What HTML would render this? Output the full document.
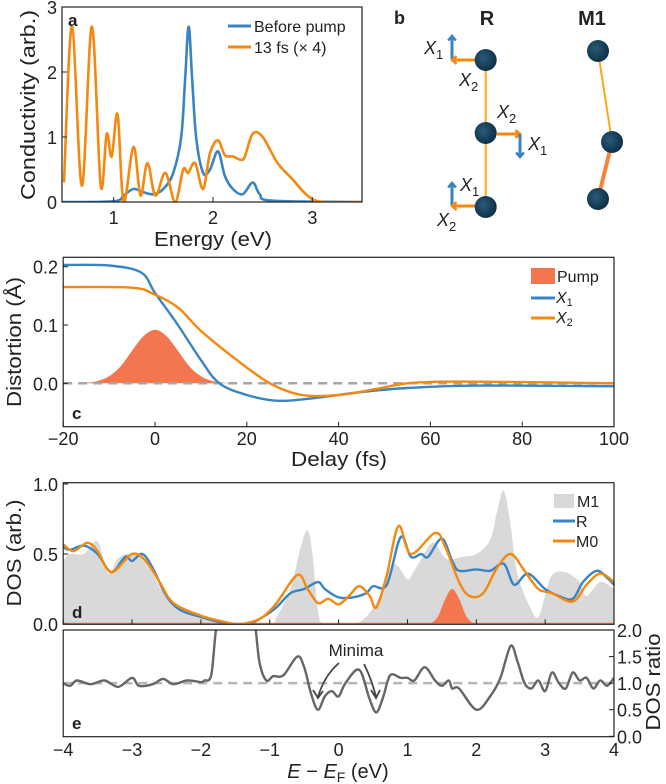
<!DOCTYPE html>
<html><head><meta charset="utf-8"><style>
body{margin:0;background:#fff}
svg{display:block;font-family:"Liberation Sans",sans-serif}
</style></head><body>
<svg id="fig" width="666" height="784" viewBox="0 0 666 784" xmlns="http://www.w3.org/2000/svg">
<defs>
<clipPath id="ca"><rect x="62" y="7" width="300" height="195"/></clipPath>
<clipPath id="cc"><rect x="63.2" y="257.3" width="550.8" height="169.4"/></clipPath>
<clipPath id="cd"><rect x="63.2" y="482.7" width="550.8" height="141.6"/></clipPath>
<clipPath id="ce"><rect x="63.2" y="630" width="550.8" height="106.7"/></clipPath>
<radialGradient id="atom" cx="0.4" cy="0.4" r="0.6"><stop offset="0" stop-color="#2a5a78"/><stop offset="1" stop-color="#0d3148"/></radialGradient>
</defs>
<g id="root"></g>
</svg>
<script>
// ---------- Panel a data ----------
const aBlueE=[0.48,1.0,1.1,1.2,1.3,1.4,1.5,1.6,1.68,1.72,1.755,1.79,1.83,1.9,1.97,2.05,2.12,2.2,2.3,2.4,2.47,2.6,3.5];
const aBlueV=[0,0.01,0.1,0.2,0.15,0.12,0.2,0.45,1.0,1.9,2.7,1.9,1.0,0.45,0.5,0.78,0.4,0.2,0.12,0.3,0.12,0.02,0];
const aOrE=[0.5,0.58,0.68,0.78,0.87,0.93,0.98,1.04,1.1,1.2,1.27,1.34,1.42,1.52,1.62,1.7,1.75,1.82,1.9,1.97,2.05,2.12,2.2,2.28,2.32,2.4,2.5,2.65,2.8,2.95,3.1,3.5];
const aOrV=[0.3,2.7,0.25,2.7,0.25,1.05,0.7,1.35,0,0.85,0.1,0.6,0.1,0.45,0,0.5,0.45,0.6,0.2,0.75,0.95,0.72,0.7,0.65,0.7,1.05,1.0,0.6,0.35,0.1,0,0];
const aXTicks=[1,2,3];
const aYTicks=[0,1,2,3];
// ---------- Panel c data ----------
const cT1=[-20,-10,-3,0,5,10,14,20,27,35,45,55,70,100];
const cX1=[0.203,0.202,0.19,0.155,0.1,0.04,0,-0.02,-0.03,-0.025,-0.015,-0.008,-0.004,-0.005];
const cT2=[-20,-5,0,5,10,17,25,32,40,48,55,65,80,100];
const cX2=[0.165,0.164,0.152,0.13,0.09,0.045,0,-0.02,-0.02,-0.01,0,0.003,0.002,0];
const cPumpT=[-20,-15,-12.5,-10,-7.5,-5,-2.5,0,2.5,5,7.5,10,12.5,15,20];
const cPumpV=[0,0.001,0.004,0.012,0.029,0.056,0.081,0.092,0.081,0.056,0.029,0.012,0.004,0.001,0];
const cXTicks=[-20,0,20,40,60,80,100];
const cYTicks=[0,0.1,0.2];
// ---------- Panel d data ----------
const dM1E=[-4,-3.9,-3.7,-3.5,-3.35,-3.2,-3.0,-2.8,-2.5,-2.0,-1.5,-1.0,-0.9,-0.7,-0.55,-0.45,-0.38,-0.3,-0.2,0.2,0.4,0.6,0.75,0.85,1.0,1.1,1.3,1.4,1.5,1.6,1.8,2.0,2.2,2.3,2.4,2.5,2.6,2.8,2.9,3.0,3.1,3.3,3.5,3.6,3.8,4.0];
const dM1V=[0.45,0.5,0.5,0.59,0.36,0.47,0.5,0.45,0.2,0.05,0,0,0.05,0.25,0.55,0.67,0.5,0.1,0,0,0.05,0.2,0.4,0.42,0.32,0.38,0.55,0.58,0.5,0.46,0.48,0.5,0.6,0.8,0.95,0.7,0.35,0.1,0.05,0.2,0.35,0.37,0.3,0.2,0.3,0.25];
const dRE=[-4,-3.9,-3.7,-3.5,-3.3,-3.1,-3.0,-2.85,-2.7,-2.5,-2.3,-2.0,-1.7,-1.5,-1.3,-1.1,-0.9,-0.7,-0.5,-0.3,-0.2,0,0.2,0.4,0.5,0.7,0.9,1.05,1.2,1.3,1.5,1.65,1.75,2.0,2.2,2.4,2.55,2.75,3.0,3.2,3.4,3.55,3.75,3.9,4.0];
const dRV=[0.55,0.53,0.56,0.5,0.37,0.48,0.45,0.5,0.4,0.2,0.1,0.05,0.01,0,0,0.05,0.12,0.22,0.25,0.3,0.25,0.19,0.19,0.22,0.27,0.28,0.62,0.48,0.5,0.48,0.61,0.45,0.38,0.39,0.38,0.43,0.28,0.36,0.25,0.2,0.18,0.3,0.38,0.33,0.28];
const dM0E=[-4,-3.85,-3.65,-3.5,-3.3,-3.0,-2.8,-2.6,-2.4,-2.0,-1.7,-1.5,-1.3,-1.1,-0.9,-0.6,-0.45,-0.3,-0.15,0,0.15,0.3,0.45,0.55,0.7,0.87,1.05,1.4,1.55,1.75,1.9,2.1,2.3,2.5,2.7,2.9,3.1,3.4,3.6,3.8,4.0];
const dM0V=[0.57,0.52,0.58,0.52,0.37,0.5,0.45,0.3,0.15,0.06,0.02,0,0.01,0.05,0.15,0.35,0.25,0.15,0.18,0.14,0.2,0.27,0.2,0.12,0.35,0.7,0.5,0.65,0.55,0.3,0.2,0.22,0.4,0.5,0.38,0.25,0.22,0.16,0.28,0.36,0.3];
const dPumpE=[1.2,1.35,1.45,1.55,1.65,1.75,1.85,1.95,2.1];
const dPumpV=[0,0.01,0.06,0.18,0.25,0.18,0.06,0.01,0];
const eE=[-4,-3.9,-3.8,-3.6,-3.4,-3.2,-3.0,-2.9,-2.7,-2.55,-2.4,-2.2,-2.0,-1.95,-1.85,-1.78,-1.7,-1.65];
const eV=[1.0,0.95,1.05,0.98,1.05,0.93,1.1,0.95,0.98,1.08,0.98,1.05,1.02,1.05,1.15,2.0,2.3,2.5];
const eE2=[-1.28,-1.22,-1.15,-1.05,-0.95,-0.8,-0.6,-0.5,-0.4,-0.3,-0.2,-0.1,0,0.1,0.3,0.45,0.55,0.65,0.75,0.9,1.0,1.1,1.25,1.4,1.5,1.6,1.65,1.75,2.0,2.2,2.35,2.5,2.6,2.7,2.8,2.9,3.0,3.1,3.2,3.3,3.4,3.5,3.6,3.7,3.8,3.9,4.0];
const eV2=[2.5,2.2,1.4,1.05,1.13,1.15,1.5,1.3,0.8,0.5,0.75,0.85,0.75,1.0,1.25,0.7,0.45,0.75,1.15,1.1,1.1,1.05,1.3,1.05,0.95,1.05,0.9,0.9,0.5,0.75,1.1,1.7,1.4,1.0,0.9,1.05,0.85,1.2,1.0,0.9,1.2,1.05,1.1,0.9,1.05,0.95,1.1];
const dXTicks=[-4,-3,-2,-1,0,1,2,3,4];
const dYTicks=[0,0.5,1.0];
const eYTicks=[0,0.5,1.0,1.5,2.0];

const NS="http://www.w3.org/2000/svg";
const root=document.getElementById('root');
function mk(tag,attrs,parent,text){const e=document.createElementNS(NS,tag);for(const k in attrs)e.setAttribute(k,attrs[k]);if(text!==undefined)e.textContent=text;(parent||root).appendChild(e);return e;}
function lin(d0,d1,r0,r1){return v=>r0+(v-d0)*(r1-r0)/(d1-d0);}
function smooth(xs,ys,sx,sy){const p=xs.map((x,i)=>[sx(x),sy(ys[i])]);let d='M'+p[0][0].toFixed(1)+','+p[0][1].toFixed(1);
for(let i=0;i<p.length-1;i++){const p0=p[i-1]||p[i],p1=p[i],p2=p[i+1],p3=p[i+2]||p2;const t=6;
const c1=[p1[0]+(p2[0]-p0[0])/t,p1[1]+(p2[1]-p0[1])/t],c2=[p2[0]-(p3[0]-p1[0])/t,p2[1]-(p3[1]-p1[1])/t];
d+=`C${c1[0].toFixed(1)},${c1[1].toFixed(1)} ${c2[0].toFixed(1)},${c2[1].toFixed(1)} ${p2[0].toFixed(1)},${p2[1].toFixed(1)}`;}return d;}
const BLUE='#3a84c4',ORANGE='#f5890f',PUMP='#f4764f',TXT='#222';
const L=63.2,R=614,W=R-L,TF=18;
function title(x,y,s,len,rot){const a={x:0,y:0,'font-size':20,'text-anchor':'middle',fill:TXT,textLength:len,lengthAdjust:'spacingAndGlyphs',transform:`translate(${x},${y})`+(rot?' rotate(-90)':'')};return mk('text',a,root,s);}

// ===== Panel a =====
const ax=lin(0.48,3.5,62,362), ay=lin(0,3,202,7);
let g=mk('g',{'clip-path':'url(#ca)'});

let p=mk('path',{d:smooth(aBlueE,aBlueV,ax,ay),fill:'none',stroke:BLUE,'stroke-width':2.6},g);

p=mk('path',{d:smooth(aOrE,aOrV,ax,ay),fill:'none',stroke:ORANGE,'stroke-width':2.6},g);

let fr=mk('rect',{x:62,y:7,width:300,height:195,fill:'none',stroke:'#222','stroke-width':1.2});

aXTicks.forEach(v=>{mk('line',{x1:ax(v),x2:ax(v),y1:202,y2:197,stroke:'#222'});let t=mk('text',{x:ax(v),y:224,'font-size':TF,'text-anchor':'middle',fill:TXT},root,v);});
aYTicks.forEach(v=>{mk('line',{x1:62,x2:67,y1:ay(v),y2:ay(v),stroke:'#222'});let t=mk('text',{x:57,y:ay(v)+7,'font-size':TF,'text-anchor':'end',fill:TXT},root,v);});
let t=title(213,246,'Energy (eV)',118,false);
t=title(35,105,'Conductivity (arb.)',190,true);
t=mk('text',{x:68,y:26,'font-size':17,'font-weight':'bold',fill:TXT},root,'a');
mk('line',{x1:228,x2:251,y1:26,y2:26,stroke:BLUE,'stroke-width':3});
t=mk('text',{x:254,y:32,'font-size':16,fill:TXT},root,'Before pump');
mk('line',{x1:228,x2:251,y1:47,y2:47,stroke:ORANGE,'stroke-width':3});
t=mk('text',{x:254,y:53,'font-size':16,fill:TXT},root,'13 fs (× 4)');

// ===== Panel b =====
t=mk('text',{x:394,y:24,'font-size':18,'font-weight':'bold',fill:TXT},root,'b');
t=mk('text',{x:487,y:25,'font-size':20,'font-weight':'bold','text-anchor':'middle',fill:TXT},root,'R');
t=mk('text',{x:592,y:25,'font-size':20,'font-weight':'bold','text-anchor':'middle',fill:TXT},root,'M1');
mk('line',{x1:485.7,y1:60,x2:485.7,y2:207,stroke:'#f7a81b','stroke-width':2});
mk('line',{x1:598,y1:51,x2:612,y2:142,stroke:'#f7a81b','stroke-width':2});
mk('line',{x1:612,y1:142,x2:598,y2:199,stroke:'#f5853a','stroke-width':4});
function arrow(x1,y1,x2,y2,c){mk('line',{x1,y1,x2,y2,stroke:c,'stroke-width':3});const a=Math.atan2(y2-y1,x2-x1),Lh=6;
mk('polyline',{points:`${x2-Lh*Math.cos(a-0.7)},${y2-Lh*Math.sin(a-0.7)} ${x2},${y2} ${x2-Lh*Math.cos(a+0.7)},${y2-Lh*Math.sin(a+0.7)}`,fill:'none',stroke:c,'stroke-width':2.5});}
arrow(452,59,452,36,BLUE);arrow(476,60,452,60,ORANGE);
arrow(497,134,520,134,ORANGE);arrow(520,134,520,157,BLUE);
arrow(452,206,452,183,BLUE);arrow(476,206,452,206,ORANGE);
function xl(x,y,s){const tt=mk('text',{x,y,'font-size':18,'font-style':'italic',fill:TXT});tt.textContent='X';mk('tspan',{'font-size':13,'font-style':'normal',dy:5},tt,s);}
xl(424,54,'1');xl(459,86,'2');xl(497,118,'2');xl(528,150,'1');xl(460,191,'1');xl(437,226,'2');
[[485.7,60],[485.7,133],[485.7,207],[598,51],[612,142],[598,199]].forEach(c=>{const a=mk('circle',{cx:c[0],cy:c[1],r:11,fill:'url(#atom)'});});

// ===== Panel c =====
const cx=lin(-20,100,L,R), cy=lin(0,0.2,383.3,266.7);
g=mk('g',{'clip-path':'url(#cc)'});

p=mk('path',{d:smooth(cPumpT,cPumpV,cx,cy)+`L${cx(20)},${cy(0)}L${cx(-20)},${cy(0)}Z`,fill:PUMP,stroke:'none'},g);

mk('line',{x1:L,x2:R,y1:cy(0),y2:cy(0),stroke:'#a6a6a6','stroke-width':2.5,'stroke-dasharray':'9,6'},g);
p=mk('path',{d:smooth(cT1,cX1,cx,cy),fill:'none',stroke:BLUE,'stroke-width':2.4},g);

p=mk('path',{d:smooth(cT2,cX2,cx,cy),fill:'none',stroke:ORANGE,'stroke-width':2.4},g);

fr=mk('rect',{x:L,y:257.3,width:W,height:169.4,fill:'none',stroke:'#222','stroke-width':1.2});

cXTicks.forEach(v=>{mk('line',{x1:cx(v),x2:cx(v),y1:426.7,y2:421.7,stroke:'#222'});const tt=mk('text',{x:cx(v),y:445,'font-size':TF,'text-anchor':'middle',fill:TXT},root,v<0?'−'+(-v):v);});
cYTicks.forEach(v=>{mk('line',{x1:L,x2:L+5,y1:cy(v),y2:cy(v),stroke:'#222'});const tt=mk('text',{x:58,y:cy(v)+7,'font-size':TF,'text-anchor':'end',fill:TXT},root,v.toFixed(1));});
t=title(339,466,'Delay (fs)',96,false);
t=title(21,342,'Distortion (Å)',130,true);
t=mk('text',{x:72,y:419,'font-size':17,'font-weight':'bold',fill:TXT},root,'c');
mk('rect',{x:531,y:268,width:24,height:16,fill:PUMP});
t=mk('text',{x:557,y:282,'font-size':16,fill:TXT},root,'Pump');
mk('line',{x1:531,x2:555,y1:298,y2:298,stroke:BLUE,'stroke-width':3});
t=mk('text',{x:556,y:303,'font-size':16,'font-style':'italic',fill:TXT},root,'X');mk('tspan',{'font-size':11,'font-style':'normal',dy:3},t,'1');
mk('line',{x1:531,x2:555,y1:318,y2:318,stroke:ORANGE,'stroke-width':3});
t=mk('text',{x:556,y:323,'font-size':16,'font-style':'italic',fill:TXT},root,'X');mk('tspan',{'font-size':11,'font-style':'normal',dy:3},t,'2');

// ===== Panel d =====
const dx=lin(-4,4,L,R), dy=lin(0,1,624,484);
g=mk('g',{'clip-path':'url(#cd)'});

p=mk('path',{d:smooth(dM1E,dM1V,dx,dy)+`L${dx(4)},${dy(0)}L${dx(-4)},${dy(0)}Z`,fill:'#d9d9d9',stroke:'none'},g);

p=mk('path',{d:smooth(dPumpE,dPumpV,dx,dy)+'Z',fill:PUMP,stroke:'none'},g);

mk('line',{x1:L,x2:R,y1:dy(0)-0.5,y2:dy(0)-0.5,stroke:PUMP,'stroke-width':1.5},g);
p=mk('path',{d:smooth(dRE,dRV,dx,dy),fill:'none',stroke:BLUE,'stroke-width':2.4},g);

p=mk('path',{d:smooth(dM0E,dM0V,dx,dy),fill:'none',stroke:ORANGE,'stroke-width':2.4},g);

fr=mk('rect',{x:L,y:482.7,width:W,height:141.6,fill:'none',stroke:'#222','stroke-width':1.2});

dXTicks.forEach(v=>{mk('line',{x1:dx(v),x2:dx(v),y1:624.3,y2:619.3,stroke:'#222'});});
dYTicks.forEach(v=>{mk('line',{x1:L,x2:L+5,y1:dy(v),y2:dy(v),stroke:'#222'});const tt=mk('text',{x:58,y:dy(v)+7,'font-size':TF,'text-anchor':'end',fill:TXT},root,v.toFixed(1));});
t=title(21,553,'DOS (arb.)',107,true);
t=mk('text',{x:72,y:618,'font-size':17,'font-weight':'bold',fill:TXT},root,'d');
mk('rect',{x:554,y:494,width:20,height:14,fill:'#d9d9d9'});
t=mk('text',{x:577,y:507,'font-size':16,fill:TXT},root,'M1');
mk('line',{x1:553,x2:575,y1:521,y2:521,stroke:BLUE,'stroke-width':3});
t=mk('text',{x:576,y:527,'font-size':16,fill:TXT},root,'R');
mk('line',{x1:553,x2:575,y1:541,y2:541,stroke:ORANGE,'stroke-width':3});
t=mk('text',{x:576,y:547,'font-size':16,fill:TXT},root,'M0');

// ===== Panel e =====
const ey=lin(0,2,736.3,630);
g=mk('g',{'clip-path':'url(#ce)'});

mk('line',{x1:L,x2:R,y1:ey(1),y2:ey(1),stroke:'#b5b5b5','stroke-width':2.5,'stroke-dasharray':'9,6'},g);
p=mk('path',{d:smooth(eE,eV,dx,ey),fill:'none',stroke:'#666','stroke-width':2.4},g);

p=mk('path',{d:smooth(eE2,eV2,dx,ey),fill:'none',stroke:'#666','stroke-width':2.4},g);

fr=mk('rect',{x:L,y:630,width:W,height:106.7,fill:'none',stroke:'#222','stroke-width':1.2});

dXTicks.forEach(v=>{const tt=mk('text',{x:dx(v),y:756,'font-size':TF,'text-anchor':'middle',fill:TXT},root,v<0?'−'+(-v):v);});
eYTicks.forEach(v=>{mk('line',{x1:R-5,x2:R,y1:ey(v),y2:ey(v),stroke:'#222'});const tt=mk('text',{x:617,y:ey(v)+7,'font-size':TF,fill:TXT},root,v.toFixed(1));});
t=title(660,682,'DOS ratio',97,true);
t=mk('text',{x:72,y:729,'font-size':17,'font-weight':'bold',fill:TXT},root,'e');
t=mk('text',{x:356,y:656,'font-size':17,'text-anchor':'middle',fill:TXT},root,'Minima');
mk('path',{d:'M339,663 Q324,676 318,697',fill:'none',stroke:'#444','stroke-width':1.8});
mk('polyline',{points:'313,690 318,698 323,691',fill:'none',stroke:'#444','stroke-width':1.8});
mk('path',{d:'M364,664 Q372,680 376,697',fill:'none',stroke:'#444','stroke-width':1.8});
mk('polyline',{points:'371,690 376,698 380,690',fill:'none',stroke:'#444','stroke-width':1.8});
t=mk('text',{x:338,y:778,'font-size':20,'text-anchor':'middle',fill:TXT},root,'');

mk('tspan',{'font-style':'italic'},t,'E');mk('tspan',{},t,' − ');mk('tspan',{'font-style':'italic'},t,'E');mk('tspan',{'font-size':14,dy:4},t,'F');mk('tspan',{dy:-4},t,' (eV)');
</script>
</body></html>
